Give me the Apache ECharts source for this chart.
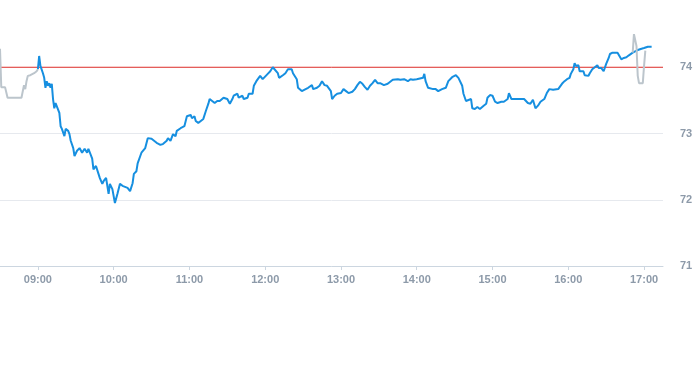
<!DOCTYPE html>
<html>
<head>
<meta charset="utf-8">
<script src="https://cdn.jsdelivr.net/npm/echarts@6/dist/echarts.min.js"></script>
<style>html,body{margin:0;padding:0;background:#fff;}#c{width:693px;height:365px;}</style>
</head>
<body>
<div id="c"></div>
<script>
// Regular session (blue)
const mainTimes = ["09:00","09:01","09:02","09:03","09:04","09:05","09:06","09:07","09:08","09:09","09:10","09:11","09:12","09:13","09:14","09:15","09:17","09:18","09:19","09:21","09:22","09:24","09:25","09:26","09:28","09:29","09:31","09:33","09:35","09:37","09:39","09:40","09:43","09:44","09:46","09:48","09:49","09:51","09:52","09:54","09:56","09:57","09:59","10:00","10:01","10:03","10:04","10:05","10:07","10:08","10:11","10:13","10:15","10:16","10:18","10:19","10:22","10:25","10:27","10:30","10:31","10:34","10:37","10:39","10:42","10:43","10:45","10:47","10:49","10:50","10:53","10:54","10:56","10:58","10:59","11:01","11:02","11:04","11:05","11:07","11:09","11:11","11:13","11:15","11:16","11:18","11:20","11:22","11:24","11:27","11:30","11:32","11:34","11:35","11:38","11:39","11:42","11:43","11:46","11:47","11:50","11:51","11:53","11:54","11:56","11:58","11:59","12:02","12:04","12:06","12:07","12:10","12:11","12:14","12:16","12:18","12:21","12:22","12:25","12:26","12:29","12:32","12:34","12:37","12:38","12:41","12:43","12:45","12:47","12:49","12:52","12:53","12:55","12:57","13:00","13:02","13:04","13:06","13:09","13:11","13:13","13:15","13:17","13:19","13:21","13:23","13:25","13:27","13:29","13:31","13:34","13:37","13:38","13:41","13:42","13:45","13:47","13:50","13:53","13:55","13:57","14:00","14:01","14:05","14:06","14:07","14:09","14:13","14:15","14:17","14:20","14:23","14:25","14:28","14:31","14:33","14:36","14:37","14:39","14:40","14:43","14:44","14:46","14:48","14:50","14:53","14:55","14:56","14:58","15:00","15:02","15:04","15:07","15:09","15:12","15:13","15:15","15:17","15:20","15:22","15:25","15:26","15:28","15:30","15:32","15:34","15:36","15:38","15:41","15:43","15:45","15:46","15:48","15:49","15:52","15:53","15:55","15:57","15:59","16:01","16:02","16:04","16:05","16:06","16:08","16:09","16:10","16:12","16:13","16:14","16:16","16:17","16:19","16:20","16:23","16:24","16:26","16:28","16:30","16:32","16:33","16:35","16:36","16:39","16:40","16:42","16:43","16:44","16:46","16:47","16:48","16:51","16:52","16:55","16:58","17:00","17:03","17:06"];
const mainValues = [73.97,74.17,74.02,74.05,73.91,73.84,73.69,73.79,73.72,73.76,73.69,73.75,73.52,73.38,73.46,73.49,73.31,73.11,73.07,72.96,73.07,73.04,72.99,72.89,72.78,72.66,72.74,72.78,72.71,72.77,72.71,72.77,72.62,72.46,72.51,72.39,72.33,72.24,72.28,72.33,72.09,72.24,72.16,72.13,71.95,72.09,72.10,72.24,72.21,72.24,72.18,72.13,72.25,72.39,72.43,72.55,72.71,72.78,72.93,72.92,72.89,72.86,72.83,72.84,72.89,72.93,72.89,72.99,72.96,73.04,73.08,73.07,73.11,73.26,73.23,73.28,73.23,73.26,73.19,73.16,73.19,73.22,73.34,73.45,73.52,73.49,73.46,73.49,73.49,73.54,73.52,73.45,73.52,73.57,73.60,73.54,73.57,73.52,73.54,73.60,73.60,73.72,73.79,73.82,73.87,73.82,73.85,73.90,73.94,74.00,73.97,73.91,73.84,73.88,73.91,73.97,73.97,73.91,73.82,73.69,73.64,73.67,73.69,73.73,73.67,73.69,73.72,73.79,73.73,73.72,73.64,73.52,73.57,73.60,73.61,73.67,73.64,73.61,73.63,73.67,73.73,73.78,73.75,73.70,73.66,73.72,73.76,73.81,73.76,73.76,73.73,73.75,73.76,73.81,73.82,73.82,73.81,73.82,73.79,73.82,73.81,73.82,73.81,73.84,73.90,73.79,73.69,73.67,73.67,73.64,73.67,73.69,73.79,73.85,73.88,73.84,73.72,73.60,73.49,73.52,73.52,73.38,73.37,73.40,73.37,73.42,73.45,73.54,73.58,73.57,73.48,73.46,73.48,73.48,73.52,73.61,73.52,73.52,73.52,73.52,73.52,73.54,73.46,73.45,73.51,73.38,73.42,73.48,73.52,73.61,73.67,73.69,73.66,73.67,73.67,73.66,73.75,73.79,73.82,73.84,73.90,73.97,74.06,74.02,74.03,73.94,73.91,73.94,73.88,73.90,73.87,73.91,73.97,73.99,74.03,73.99,73.99,73.94,74.05,74.14,74.20,74.22,74.22,74.22,74.20,74.12,74.09,74.14,74.15,74.14,74.18,74.22,74.25,74.26,74.28,74.29,74.31,74.31];

// Extended session (gray): pre-market, gap, late spike
const extTimes = ["08:30","08:31","08:34","08:36","08:47","08:49","08:50","08:51","08:52","08:54","08:55","08:57","08:59","09:00","12:00","16:51","16:52","16:54","16:55","16:56","16:59","17:00","17:01"];
const extValues = [74.28,73.70,73.70,73.54,73.54,73.73,73.67,73.79,73.87,73.88,73.90,73.91,73.94,73.97,null,74.22,74.50,74.32,73.87,73.76,73.76,74.02,74.25];

const refLevel = 74.0;
const axisStart = "08:30";
const axisEnd = "17:15";
const yMin = 71, yMax = 75, yStep = 1;

function ts(s) {
  const p = s.split(":");
  return Date.UTC(2024, 0, 2, +p[0], +p[1]);
}
function pair(times, vals) {
  return times.map((t, i) => [ts(t), vals[i]]);
}
function pad(n) { return (n < 10 ? "0" : "") + n; }

const labelFont = {
  color: "#8d9aa9",
  fontSize: 11,
  fontWeight: "bold",
  fontFamily: "Liberation Sans, Arial, sans-serif"
};

const chart = echarts.init(document.getElementById("c"), null, { renderer: "canvas" });
chart.setOption({
  animation: false,
  useUTC: true,
  grid: { left: 0, right: 30, top: 1, bottom: 99, containLabel: false, outerBoundsMode: "none" },
  xAxis: {
    type: "time",
    min: ts(axisStart),
    max: ts(axisEnd),
    minInterval: 3600000,
    maxInterval: 3600000,
    axisLine: { lineStyle: { color: "#ccd6e0", width: 1 } },
    axisTick: { show: true, length: 4, lineStyle: { color: "#ccd6e0" } },
    splitLine: { show: false },
    axisLabel: Object.assign({
      showMinLabel: false,
      showMaxLabel: false,
      margin: 8,
      formatter: function (v) {
        const d = new Date(v);
        return pad(d.getUTCHours()) + ":" + pad(d.getUTCMinutes());
      }
    }, labelFont)
  },
  yAxis: {
    type: "value",
    position: "right",
    min: yMin,
    max: yMax,
    interval: yStep,
    axisLine: { show: false },
    axisTick: { show: false },
    splitLine: { show: true, showMaxLine: false, lineStyle: { color: "#e6e9ee", width: 1 } },
    axisLabel: Object.assign({ showMaxLabel: false, margin: 17 }, labelFont)
  },
  series: [
    {
      name: "reference",
      type: "line",
      data: [[ts(axisStart), refLevel], [ts(axisEnd), refLevel]],
      showSymbol: false,
      silent: true,
      lineStyle: { color: "#e3302b", width: 1 },
      itemStyle: { color: "#e3302b" },
      z: 1
    },
    {
      type: "line",
      data: pair(mainTimes, mainValues),
      showSymbol: false,
      lineStyle: { color: "#168fe0", width: 2 },
      itemStyle: { color: "#168fe0" },
      z: 2
    },
    {
      type: "line",
      data: pair(extTimes, extValues),
      connectNulls: false,
      showSymbol: false,
      lineStyle: { color: "#bcc5cc", width: 2 },
      itemStyle: { color: "#bcc5cc" },
      z: 3
    }
  ]
});
</script>
</body>
</html>
